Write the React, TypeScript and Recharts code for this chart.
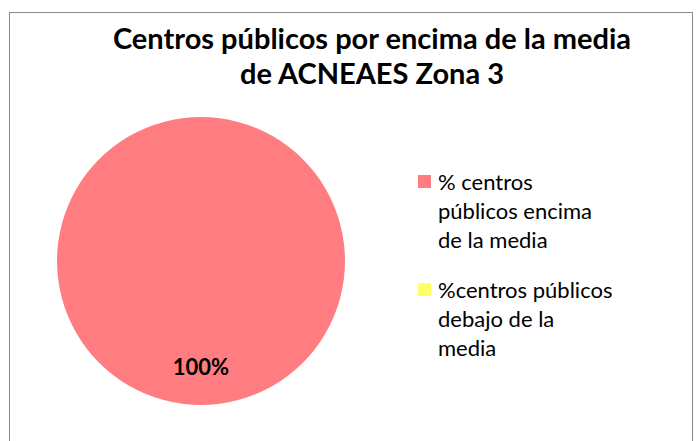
import { PieChart, Pie, Cell, Legend } from 'recharts';

const title = ['Centros públicos por encima de la media', 'de ACNEAES Zona 3'];
const categories = [
  '% centros públicos encima de la media',
  '%centros públicos debajo de la media',
];
const legendLines = [
  ['% centros', 'públicos encima', 'de la media'],
  ['%centros públicos', 'debajo de la', 'media'],
];
const values = [100, 0];
const colors = ['#FF7C80', '#FFFF66'];

const data = categories.map((name, i) => ({ name, value: values[i] }));

const RADIAN = Math.PI / 180;

function renderLabel(props: any) {
  const { cx, cy, midAngle, outerRadius, percent, value } = props;
  if (!value) return null;
  const r = outerRadius * 0.73;
  const x = cx + r * Math.cos(-midAngle * RADIAN);
  const y = cy + r * Math.sin(-midAngle * RADIAN);
  return (
    <text
      x={x}
      y={y}
      textAnchor="middle"
      dominantBaseline="central"
      fill="#000"
      fontSize={22}
      fontWeight="bold"
      fontFamily="Lato, 'Open Sans', sans-serif"
    >
      {`${Math.round(percent * 100)}%`}
    </text>
  );
}

function LegendBox() {
  return (
    <div style={{ fontFamily: "Lato, 'Open Sans', sans-serif", fontSize: 22, color: '#000' }}>
      {legendLines.map((lines, i) => (
        <div key={i} style={{ display: 'flex', alignItems: 'flex-start', marginBottom: i === 0 ? 21 : 0 }}>
          <div
            style={{
              width: 13,
              height: 13,
              background: colors[i],
              marginTop: 8,
              marginRight: 7,
              flexShrink: 0,
            }}
          />
          <div style={{ lineHeight: '29px' }}>
            {lines.map((l, j) => (
              <div key={j} style={{ whiteSpace: 'nowrap' }}>
                {l}
              </div>
            ))}
          </div>
        </div>
      ))}
    </div>
  );
}

export default function App() {
  return (
    <div
      style={{
        position: 'absolute',
        left: 0,
        top: 0,
        width: 696,
        height: 441,
        background: '#fff',
        overflow: 'hidden',
      }}
    >
      <div
        style={{
          position: 'absolute',
          left: 9,
          top: 12,
          width: 682,
          height: 450,
          border: '1.5px solid #8a8a8a',
        }}
      />
      <div
        style={{
          position: 'absolute',
          left: 72,
          top: 20,
          width: 600,
          textAlign: 'center',
          fontFamily: "Lato, 'Open Sans', sans-serif",
          fontWeight: 'bold',
          fontSize: 29,
          lineHeight: '35px',
          color: '#000',
        }}
      >
        {title.map((t, i) => (
          <div key={i}>{t}</div>
        ))}
      </div>
      <div style={{ position: 'absolute', left: 0, top: 0 }}>
        <PieChart width={696} height={441}>
          <Pie
            data={data}
            dataKey="value"
            nameKey="name"
            cx={196}
            cy={256}
            outerRadius={144}
            startAngle={90}
            endAngle={-270}
            stroke="none"
            label={renderLabel}
            labelLine={false}
            isAnimationActive={false}
          >
            {data.map((d, i) => (
              <Cell key={d.name} fill={colors[i]} />
            ))}
          </Pie>
          <Legend
            content={() => <LegendBox />}
            wrapperStyle={{ position: 'absolute', left: 418, top: 167, width: 270 }}
          />
        </PieChart>
      </div>
    </div>
  );
}
